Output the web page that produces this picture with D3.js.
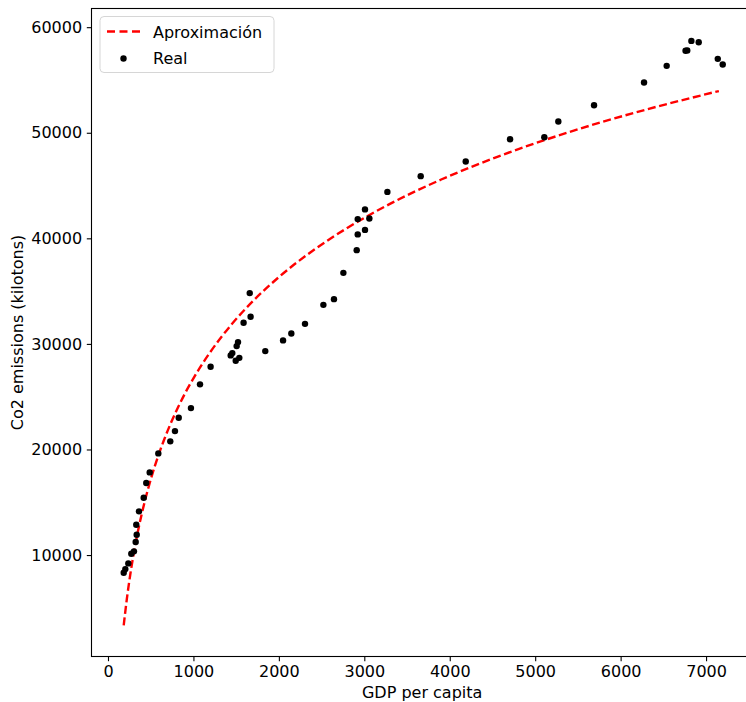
<!DOCTYPE html>
<html>
<head>
<meta charset="utf-8">
<script src="https://cdn.jsdelivr.net/npm/d3@7"></script>
<style>
    body { margin: 0; background: #fff; }
    #chart { width: 746px; height: 702px; overflow: hidden; }
    text { font-family: "DejaVu Sans", sans-serif; }
</style>
</head>
<body>
<div id="chart"></div>
<script>
// real data (GDP per capita vs Co2 emissions)
let gdp = [184, 203, 238, 273, 304, 324, 336, 331, 363, 418, 448, 488, 589, 729, 784, 828, 971,
    1077, 1201, 1436, 1455, 1495, 1506, 1522, 1537, 1587, 1659, 1669, 1841, 2049, 2146, 2306,
    2521, 2645, 2755, 2911, 2923, 2923, 3008, 3008, 3059, 3270, 3660, 4187, 4706, 5107, 5271,
    5689, 6274, 6539, 6760, 6780, 6828, 6914, 7137, 7195];
let co2 = [8320, 8670, 9210, 10120, 10350, 11230, 11920, 12870, 14140, 15430, 16820, 17830, 19630,
    20770, 21740, 23000, 23920, 26170, 27830, 28910, 29130, 28400, 29790, 30170, 28680, 32000,
    34810, 32570, 29320, 30330, 30990, 31900, 33700, 34240, 36730, 38880, 40370, 41820, 40800,
    42740, 41880, 44400, 45890, 47280, 49390, 49580, 51070, 52610, 54760, 56340, 57770, 57800,
    58700, 58580, 57000, 56470];

// fitted curve
let approxX = [184, 220, 260, 300, 350, 400, 470, 550, 650, 750, 870, 1000, 1200, 1450, 1700,
    2000, 2400, 2800, 3300, 3900, 4600, 5400, 6300, 7150];
let approxY = [3330, 5800, 8110, 10090, 12220, 14070, 16300, 18470, 20780, 22760, 24820, 26740,
    29260, 31880, 34080, 36330, 38850, 40980, 43260, 45570, 47850, 50070, 52200, 53950];

let xTicks = [0, 1000, 2000, 3000, 4000, 5000, 6000, 7000];
let yTicks = [10000, 20000, 30000, 40000, 50000, 60000];

let legendLabels = ["Aproximación", "Real"];

drawChart();

function drawChart() {
    var width = 746;
    var height = 702;
    var left = 91.5, right = 752.8, top = 8.5, bottom = 656.5;

    var svg = d3.select("#chart")
        .append("svg")
        .attr("width", width)
        .attr("height", height);

    var x = d3.scaleLinear().domain([-193, 7547]).range([left, right]);
    var y = d3.scaleLinear().domain([390, 61770]).range([bottom, top]);

    // axes
    var xAxis = d3.axisBottom(x)
        .tickValues(xTicks)
        .tickSize(4.7)
        .tickSizeOuter(0)
        .tickPadding(4.7)
        .tickFormat(d3.format("d"));
    var gx = svg.append("g")
        .attr("transform", "translate(0," + bottom + ")")
        .call(xAxis);

    var yAxis = d3.axisLeft(y)
        .tickValues(yTicks)
        .tickSize(4.7)
        .tickSizeOuter(0)
        .tickPadding(4.7)
        .tickFormat(d3.format("d"));
    var gy = svg.append("g")
        .attr("transform", "translate(" + left + ",0)")
        .call(yAxis);

    [gx, gy].forEach(function (g) {
        g.select(".domain").remove();
        g.selectAll(".tick line").attr("stroke", "#000").attr("stroke-width", 1.1);
        g.selectAll(".tick text")
            .attr("fill", "#000")
            .style("font-size", "16px")
            .style("font-family", "DejaVu Sans");
    });

    // spines
    svg.append("rect")
        .attr("x", left)
        .attr("y", top)
        .attr("width", right - left)
        .attr("height", bottom - top)
        .attr("fill", "none")
        .attr("stroke", "#000")
        .attr("stroke-width", 1.1);

    // approximation line
    var pts = approxX.map(function (d, i) {
        return [d, approxY[i]];
    });
    var line = d3.line()
        .x(function (d) { return x(d[0]); })
        .y(function (d) { return y(d[1]); })
        .curve(d3.curveMonotoneX);

    svg.append("path")
        .datum(pts)
        .attr("d", line)
        .attr("fill", "none")
        .attr("stroke", "#ff0000")
        .attr("stroke-width", 2.4)
        .attr("stroke-dasharray", "8,3.6");

    // real points
    svg.selectAll(".dot")
        .data(gdp)
        .enter().append("circle")
        .attr("class", "dot")
        .attr("cx", function (d) { return x(d); })
        .attr("cy", function (d, i) { return y(co2[i]); })
        .attr("r", 3.2)
        .attr("fill", "#000");

    // axis labels
    svg.append("text")
        .attr("x", (left + right) / 2)
        .attr("y", 698)
        .attr("text-anchor", "middle")
        .style("font-size", "16px")
        .text("GDP per capita");

    svg.append("text")
        .attr("transform", "translate(23," + ((top + bottom) / 2) + ") rotate(-90)")
        .attr("text-anchor", "middle")
        .style("font-size", "16px")
        .text("Co2 emissions (kilotons)");

    // legend
    var lg = svg.append("g");
    lg.append("rect")
        .attr("x", 100)
        .attr("y", 16.5)
        .attr("width", 174)
        .attr("height", 56)
        .attr("rx", 4)
        .attr("fill", "#fff")
        .attr("fill-opacity", 0.8)
        .attr("stroke", "#d6d6d6")
        .attr("stroke-width", 1);

    lg.append("line")
        .attr("x1", 107)
        .attr("x2", 140)
        .attr("y1", 31.5)
        .attr("y2", 31.5)
        .attr("stroke", "#ff0000")
        .attr("stroke-width", 2.4)
        .attr("stroke-dasharray", "8,4.5");

    lg.append("circle")
        .attr("cx", 123.5)
        .attr("cy", 58.5)
        .attr("r", 3.2)
        .attr("fill", "#000");

    lg.selectAll(".lbl")
        .data(legendLabels)
        .enter().append("text")
        .attr("class", "lbl")
        .attr("x", 153)
        .attr("y", function (d, i) { return 37.5 + i * 26.5; })
        .style("font-size", "16px")
        .text(function (d) { return d; });
}
</script>
</body>
</html>
